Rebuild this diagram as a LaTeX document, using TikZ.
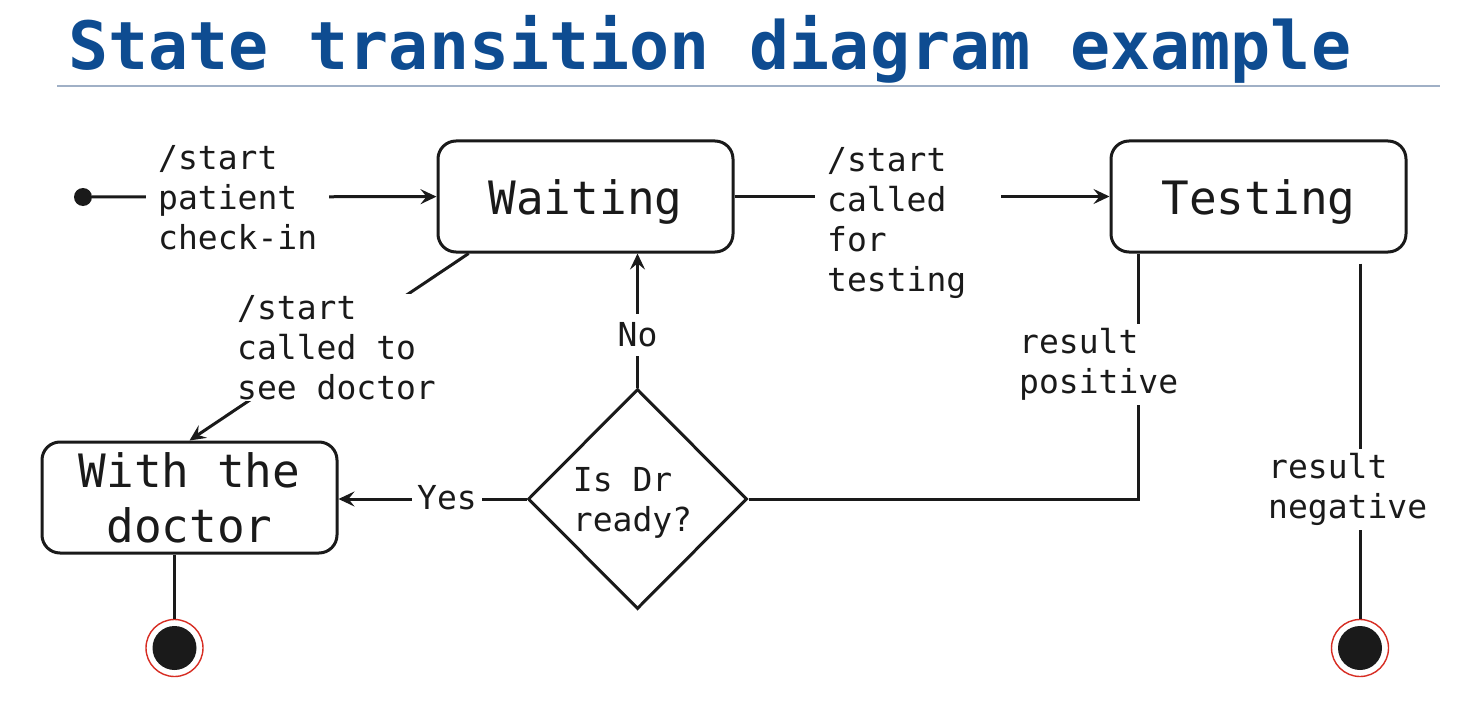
\documentclass[tikz,border=0pt]{standalone}
\usepackage{fontspec}
\setmonofont{DejaVu Sans Mono}
\usetikzlibrary{shapes.geometric,arrows.meta,calc}
\definecolor{titleblue}{RGB}{14,76,145}
\definecolor{ink}{RGB}{26,26,26}
\definecolor{rulec}{RGB}{160,176,198}
\definecolor{finred}{RGB}{215,45,35}
\begin{document}
\begin{tikzpicture}[x=1pt,y=-1pt,
  every node/.style={text=ink},
  statebox/.style={draw=ink, line width=3pt, rounded corners=18pt, minimum width=295pt, minimum height=111pt, inner sep=0pt, align=center, font=\ttfamily\fontsize{46}{55}\selectfont},
  oneline/.style={text height=46pt, text depth=10pt},
  lbl/.style={fill=white, align=left, inner xsep=12pt, inner ysep=4pt, font=\ttfamily\fontsize{33}{40}\selectfont},
  conn/.style={draw=ink, line width=3pt},
  arr/.style={conn, -{Stealth[length=16pt,width=15pt,inset=6pt]}},
  decision/.style={diamond, draw=ink, line width=3pt, minimum width=219pt, minimum height=220pt, inner sep=0pt},
  dtext/.style={align=left, inner sep=0pt, font=\ttfamily\fontsize{33}{40}\selectfont},
  finalstate/.style={circle, draw=finred, line width=1.4pt, minimum size=57pt, inner sep=0pt,
    path picture={\fill[ink] (path picture bounding box.center) circle (22pt);}},
  initstate/.style={circle, fill=ink, minimum size=18pt, inner sep=0pt}
]
\useasboundingbox[fill=white] (0,0) rectangle (1481,706);

% title
\node[anchor=base west, inner sep=0pt, text=titleblue, font=\ttfamily\bfseries\fontsize{66.6}{70}\selectfont] (title) at (68,70) {State transition diagram example};
\coordinate (ruleL) at (57,86);
\coordinate (ruleR) at (1440,86);
\draw[rulec, line width=1.6pt] (ruleL) -- (ruleR);

% states
\node[initstate] (init) at (83,197) {};
\node[statebox, oneline] (wait) at (585.5,196.5) {Waiting};
\node[statebox, oneline] (test) at (1258.5,196.5) {Testing};
\node[statebox] (doc) at (189.5,497.5) {With the\\doctor};
\node[decision] (dia) at (637.5,499) {};
\node[dtext] (diat) at ($(dia.center)+(-5,4)$) {Is Dr\\ready?};
\node[finalstate] (f1) at (174.5,648) {};
\node[finalstate] (f2) at (1360,648) {};

% connectors
\draw[arr] (init) -- (wait);
\draw[arr] (wait.206) -- (doc.north);
\draw[arr] (dia.north) -- (dia.north |- wait.south);
\draw[arr] (dia.west) -- (dia.west -| doc.east);
\draw[conn] (dia.east) -| ($(test.south west)+(29,0)$);
\draw[conn] ($(test.south)+(101.5,10)$) -- (f2.north);
\draw[conn] (doc.south -| f1.north) -- (f1.north);

% labels
\node[lbl, anchor=west] (lS) at (146,198) {/start\\patient\\check-in};
\node[lbl, anchor=west, fill=none] (lT) at (815,223.5) {/start\\called\\for\\testing};
\draw[conn] (wait.east) -- (lT.west |- wait.east);
\draw[arr] ($(lT.east |- test.west)+(23,0)$) -- (test.west);
\node[lbl, anchor=west, inner ysep=1pt] (lD) at (225,347.5) {/start\\called to\\see doctor};
\node[lbl, inner xsep=4pt, inner ysep=9pt] (lNo) at (637.5,335) {No};
\node[lbl, inner xsep=5pt] (lYes) at (447,497.5) {Yes};
\node[lbl, anchor=west, inner ysep=4pt] (lP) at (1007,364.5) {result\\positive};
\node[lbl, anchor=west, inner ysep=4pt] (lN) at (1256,489.5) {result\\negative};
\end{tikzpicture}
\end{document}
